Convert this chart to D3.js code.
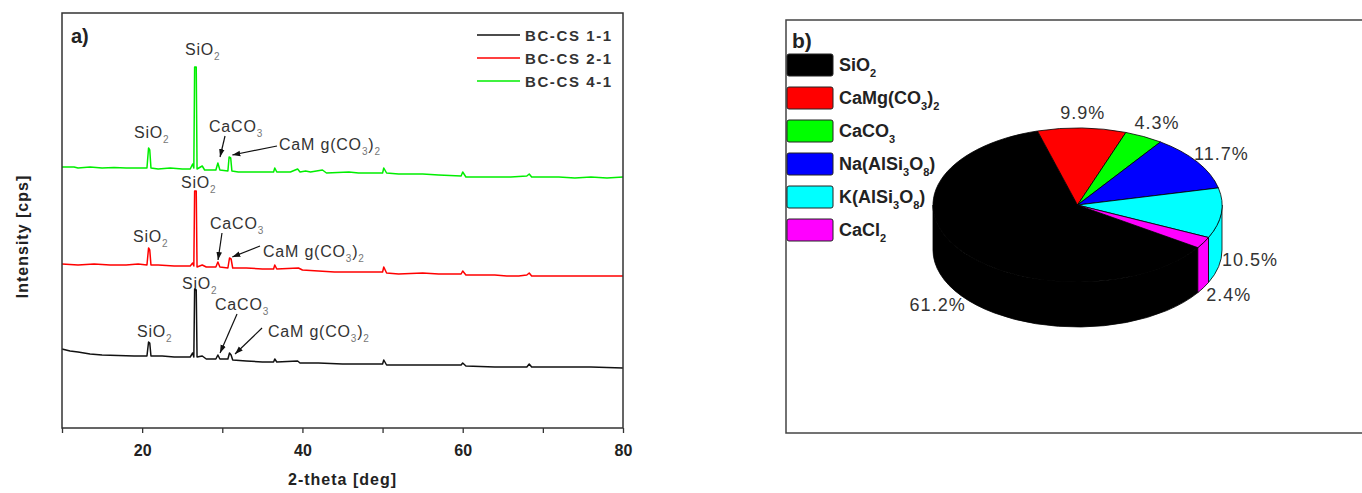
<!DOCTYPE html>
<html>
<head>
<meta charset="utf-8">
<script src="https://cdn.jsdelivr.net/npm/d3@7"></script>
<style>
body{margin:0;background:#fff}
svg{display:block;font-family:"Liberation Sans",Arial,sans-serif}
</style>
</head>
<body>
<svg id="fig" width="1362" height="493"></svg>
<script>
// ---- panel a) XRD patterns, [2-theta, intensity] (stacked, arbitrary cps)
var bc11 = [[10,790],[11,770],[12,760],[13.5,740],[15,730],[17,725],[19,720],[20.6,720],[20.8,860],[20.95,850],[21.1,720],
  [22.5,720],[24,710],[26,710],[26.3,750],[26.45,710],[26.55,1390],[26.75,1380],[26.85,710],[27.5,720],[28,690],[29.2,690],
  [29.45,730],[29.7,690],[30.7,690],[30.9,750],[31.1,730],[31.3,680],[33,670],[35,660],[36.4,660],[36.55,690],[36.8,660],
  [39.4,670],[39.7,650],[42,650],[45,640],[48,640],[50,640],[50.15,680],[50.5,630],[55,630],[59.8,630],[60,650],[60.4,620],
  [64,610],[68,610],[68.3,640],[68.6,610],[72,610],[76,610],[80,600]];
var bc21 = [[10,1640],[12,1630],[14,1640],[16,1630],[18,1630],[19.5,1640],[20.6,1630],[20.8,1800],[20.95,1780],[21.1,1630],
  [22,1630],[24,1620],[26,1620],[26.3,1650],[26.45,1620],[26.55,2370],[26.75,2370],[26.85,1610],[27.5,1630],[28,1610],
  [29.2,1610],[29.45,1660],[29.7,1610],[30.7,1600],[30.9,1700],[31.1,1690],[31.3,1600],[33,1600],[35,1590],[36.4,1590],
  [36.55,1630],[36.8,1590],[39.5,1600],[40,1580],[42,1570],[44,1560],[46,1560],[50,1560],[50.15,1610],[50.5,1550],
  [52,1540],[55,1550],[57,1540],[59.8,1540],[60,1570],[60.4,1530],[64,1530],[65.5,1520],[67,1520],[68,1530],[68.3,1550],
  [68.6,1520],[72,1520],[76,1520],[80,1520]];
var bc41 = [[10,2610],[11.5,2610],[12,2600],[13.5,2610],[15,2600],[16.5,2605],[18,2600],[20,2600],[20.6,2600],[20.8,2800],
  [20.95,2780],[21.1,2600],[22,2590],[23.5,2600],[25,2590],[26,2590],[26.3,2640],[26.45,2600],[26.55,3610],[26.75,3610],
  [26.85,2590],[27.5,2620],[27.8,2580],[29.2,2580],[29.45,2650],[29.7,2580],[30.7,2570],[30.85,2710],[31.05,2700],
  [31.2,2570],[32,2560],[35,2560],[36.4,2560],[36.55,2600],[36.8,2560],[38.5,2560],[39.4,2590],[39.7,2560],[40.4,2570],
  [41,2560],[42.5,2580],[43,2550],[45.8,2560],[47,2550],[50,2550],[50.15,2600],[50.5,2550],[52,2540],[55,2540],[57,2530],
  [59.8,2520],[60,2560],[60.4,2510],[66,2510],[68,2520],[68.3,2540],[68.6,2510],[72,2510],[74,2500],[76,2510],[78,2500],[80,2510]];

var seriesNames = ["BC-CS 1-1", "BC-CS 2-1", "BC-CS 4-1"];
var seriesColors = ["#111111", "#ff0000", "#00ee00"];
var xTicks = [10, 20, 30, 40, 50, 60, 70, 80];

// peak labels: text, label anchor [deg, cps], arrow from/to [deg, cps] (null = none)
var peakLabels = [
  ["SiO_2", [25.35, 3730], null],
  ["SiO_2", [18.98, 2900], null],
  ["CaCO_3", [28.34, 2960], [[30.34, 2920], [29.72, 2710]]],
  ["CaM g(CO_3)_2", [37.08, 2780], [[36.83, 2820], [31.25, 2730]]],
  ["SiO_2", [24.85, 2400], null],
  ["SiO_2", [18.86, 1860], null],
  ["CaCO_3", [28.47, 1990], [[29.96, 1950], [29.47, 1680]]],
  ["CaM g(CO_3)_2", [35.08, 1710], [[34.71, 1820], [31.25, 1710]]],
  ["SiO_2", [24.97, 1390], null],
  ["SiO_2", [19.36, 910], null],
  ["CaCO_3", [29.09, 1180], [[31.84, 1140], [29.72, 750]]],
  ["CaM g(CO_3)_2", [35.7, 910], [[34.96, 1000], [31.59, 740]]]
];

// ---- panel b) phase composition (%)
var phases = ["SiO_2", "CaMg(CO_3)_2", "CaCO_3", "Na(AlSi_3O_8)", "K(AlSi_3O_8)", "CaCl_2"];
var phasePct = [61.2, 9.9, 4.3, 11.7, 10.5, 2.4];
var phaseColors = ["#000000", "#ff0000", "#00ff00", "#0000ff", "#00ffff", "#ff00ff"];

var svg = d3.select("#fig");

// writes "SiO_2" style strings as text with subscripts
function formula(text, str, subSize, subColor, shift, subWeight) {
  var down = false;
  str.split(/(_\w)/).forEach(function(part){
    if (!part) return;
    var t = text.append("tspan");
    if (part[0] === "_") {
      t.text(part[1]).attr("font-size", subSize).attr("font-weight", subWeight || "normal");
      if (subColor) t.attr("fill", subColor);
      if (!down) { t.attr("dy", shift); down = true; }
    } else {
      t.text(part);
      if (down) { t.attr("dy", -shift); down = false; }
    }
  });
}

svg.append("defs").append("marker")
  .attr("id", "arr").attr("viewBox", "0 0 10 10")
  .attr("refX", 10).attr("refY", 5)
  .attr("markerWidth", 8).attr("markerHeight", 8)
  .attr("markerUnits", "userSpaceOnUse").attr("orient", "auto")
  .append("path").attr("d", "M0,1.5L10,5L0,8.5Z").attr("fill", "#111");

// ================= panel a =================
var L = 62, R = 623, T = 13, B = 428;
var x = d3.scaleLinear().domain([10, 80]).range([L, R]);
var y = d3.scaleLinear().domain([0, 4150]).range([B, T]);

var line = d3.line().x(function(d){return x(d[0]);}).y(function(d){return y(d[1]);});

var pa = svg.append("g");
[bc11, bc21, bc41].forEach(function(s, i){
  pa.append("path").attr("d", line(s))
    .attr("fill", "none").attr("stroke", seriesColors[i])
    .attr("stroke-width", 1.5).attr("stroke-linejoin", "round");
});

// frame
pa.append("rect").attr("x", L).attr("y", T).attr("width", R - L).attr("height", B - T)
  .attr("fill", "none").attr("stroke", "#333").attr("stroke-width", 1.5);

var xAxis = pa.append("g").attr("transform", "translate(0," + B + ")")
  .call(d3.axisBottom(x).tickValues(xTicks).tickSize(5).tickPadding(12)
    .tickFormat(function(d){ return d % 20 === 0 ? d : ""; }));
xAxis.select(".domain").remove();
xAxis.selectAll("line").attr("stroke", "#333").attr("stroke-width", 1.3);
xAxis.selectAll("text").attr("font-family", "Liberation Sans, Arial, sans-serif")
  .attr("font-size", 16).attr("font-weight", "bold").attr("fill", "#222");

pa.append("text").attr("x", (L + R) / 2).attr("y", 485).attr("text-anchor", "middle")
  .attr("font-size", 16).attr("font-weight", "bold").attr("letter-spacing", 1).attr("fill", "#222")
  .text("2-theta [deg]");
pa.append("text").attr("transform", "translate(28," + ((T + B) / 2 + 16) + ") rotate(-90)")
  .attr("text-anchor", "middle").attr("font-size", 16).attr("font-weight", "bold")
  .attr("letter-spacing", 1).attr("fill", "#222").text("Intensity [cps]");
pa.append("text").attr("x", 71).attr("y", 43).attr("font-size", 20).attr("font-weight", "bold")
  .attr("fill", "#222").text("a)");

// legend
seriesNames.forEach(function(n, i){
  var yy = 35 + i * 23;
  pa.append("line").attr("x1", 477).attr("x2", 520).attr("y1", yy).attr("y2", yy)
    .attr("stroke", seriesColors[i]).attr("stroke-width", 1.5);
  pa.append("text").attr("x", 525).attr("y", yy + 6).attr("font-size", 15)
    .attr("font-weight", "bold").attr("letter-spacing", 1.6).attr("fill", "#333").text(n);
});

// peak annotations
peakLabels.forEach(function(p){
  var t = pa.append("text").attr("x", x(p[1][0])).attr("y", y(p[1][1]))
    .attr("font-size", 16).attr("letter-spacing", 0.8).attr("fill", "#333");
  formula(t, p[0], 10, "#777", 5);
  if (p[2]) {
    pa.append("line")
      .attr("x1", x(p[2][0][0])).attr("y1", y(p[2][0][1]))
      .attr("x2", x(p[2][1][0])).attr("y2", y(p[2][1][1]))
      .attr("stroke", "#111").attr("stroke-width", 1.2).attr("marker-end", "url(#arr)");
  }
});

// ================= panel b =================
var pb = svg.append("g");
pb.append("rect").attr("x", 786).attr("y", 20).attr("width", 700).attr("height", 413)
  .attr("fill", "none").attr("stroke", "#444").attr("stroke-width", 1.5);
pb.append("text").attr("x", 792).attr("y", 48).attr("font-size", 21).attr("font-weight", "bold")
  .attr("fill", "#222").text("b)");

phases.forEach(function(n, i){
  var yy = 54 + i * 33;
  pb.append("rect").attr("x", 787).attr("y", yy).attr("width", 46).attr("height", 22).attr("rx", 2)
    .attr("fill", phaseColors[i]).attr("stroke", "#222").attr("stroke-width", 1);
  var t = pb.append("text").attr("x", 839).attr("y", yy + 17).attr("font-size", 18)
    .attr("font-weight", "bold").attr("fill", "#222");
  formula(t, n, 11, null, 6, "bold");
});

// 3D pie on an ellipse
var cx = 1077.5, cy = 205, rx = 144.5, ry = 77, depth = 45;
var startA = (33.6 + 90) * Math.PI / 180;
var arcs = d3.pie().sort(null).value(function(d){return d;})
  .startAngle(startA).endAngle(startA + 2 * Math.PI)(phasePct);

function pt(a, dy) {
  var th = a - Math.PI / 2;
  return [cx + rx * Math.cos(th), cy + ry * Math.sin(th) + (dy || 0)];
}

// side walls (front half only: screen angle 0..pi  => pie angle pi/2..3pi/2, repeating every 2pi)
var sides = pb.append("g");
arcs.forEach(function(a, i){
  [0, 2 * Math.PI].forEach(function(off){
    var s = Math.max(a.startAngle, Math.PI / 2 + off), e = Math.min(a.endAngle, 1.5 * Math.PI + off);
    if (e <= s) return;
    var p0 = pt(s), p1 = pt(e), q1 = pt(e, depth), q0 = pt(s, depth);
    sides.append("path")
      .attr("d", "M" + p0 + "A" + rx + "," + ry + " 0 0 1 " + p1 + "L" + q1 +
        "A" + rx + "," + ry + " 0 0 0 " + q0 + "Z")
      .attr("fill", phaseColors[i]).attr("stroke", "#000").attr("stroke-width", 0.8);
  });
});

// top faces
arcs.forEach(function(a, i){
  var p0 = pt(a.startAngle), p1 = pt(a.endAngle);
  var large = (a.endAngle - a.startAngle) > Math.PI ? 1 : 0;
  pb.append("path")
    .attr("d", "M" + cx + "," + cy + "L" + p0 + "A" + rx + "," + ry + " 0 " + large + " 1 " + p1 + "Z")
    .attr("fill", phaseColors[i]).attr("stroke", "#000").attr("stroke-width", 0.8)
    .attr("stroke-linejoin", "round");
});

// percentage labels
arcs.forEach(function(a){
  var mid = (a.startAngle + a.endAngle) / 2, th = mid - Math.PI / 2;
  var lx = cx + rx * 1.2 * Math.cos(th), ly = cy + ry * 1.2 * Math.sin(th);
  if (Math.sin(th) > 0) ly += depth;
  pb.append("text").attr("x", lx).attr("y", ly).attr("dy", "0.35em").attr("text-anchor", "middle")
    .attr("font-size", 18).attr("letter-spacing", 1).attr("fill", "#333")
    .text(d3.format(".1f")(a.data) + "%");
});
</script>
</body>
</html>
